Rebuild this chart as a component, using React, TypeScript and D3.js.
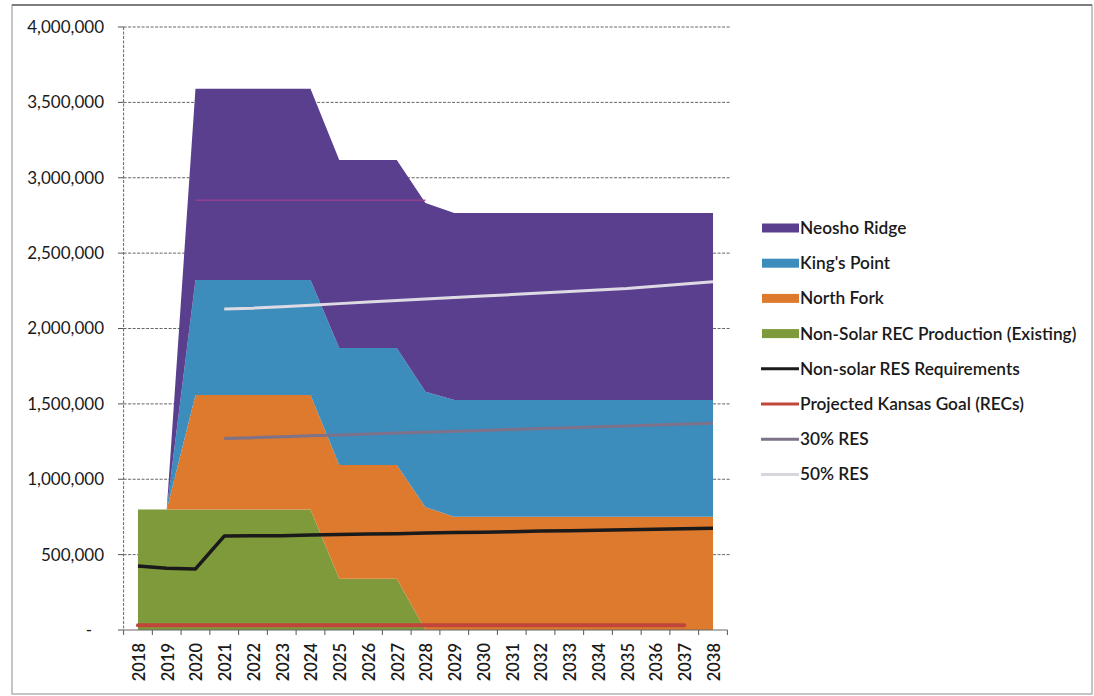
import React from "react";
import * as d3 from "d3";

const years = [
  "2018","2019","2020","2021","2022","2023","2024","2025","2026","2027","2028",
  "2029","2030","2031","2032","2033","2034","2035","2036","2037","2038",
];

// Stacked areas (bottom -> top)
const existingRec = [800000,800000,800000,800000,800000,800000,800000,340000,340000,340000,0,0,0,0,0,0,0,0,0,0,0];
const northFork = [0,0,759000,759000,759000,759000,759000,755000,755000,755000,815000,752000,752000,752000,752000,752000,752000,752000,752000,752000,752000];
const kingsPoint = [0,0,763000,763000,763000,763000,763000,776000,776000,776000,765000,774000,774000,774000,774000,774000,774000,774000,774000,774000,774000];
const neoshoRidge = [0,0,1268000,1268000,1268000,1268000,1268000,1247000,1247000,1247000,1252000,1240000,1240000,1240000,1240000,1240000,1240000,1240000,1240000,1240000,1240000];

// Lines (null = no value)
const resRequirements = [425000,410000,405000,623000,625000,626000,630000,633000,636000,639000,643000,646000,649000,652000,656000,659000,662000,665000,668000,672000,675000];
const kansasGoal = [32000,32000,32000,32000,32000,32000,32000,32000,32000,32000,32000,32000,32000,32000,32000,32000,32000,32000,32000,32000,null];
const res30 = [null,null,null,1270000,1276000,1282000,1288000,1294000,1300000,1306000,1312000,1318000,1324000,1330000,1336000,1342000,1348000,1354000,1360000,1366000,1372000];
const res50 = [null,null,null,2130000,2135000,2145000,2155000,2165000,2175000,2185000,2195000,2205000,2215000,2225000,2235000,2245000,2255000,2265000,2280000,2295000,2310000];
const hiddenTrace = [null,null,2850000,2850000,2850000,2850000,2850000,2850000,2850000,2850000,2850000,null,null,null,null,null,null,null,null,null,null];

const yTicks = [0,500000,1000000,1500000,2000000,2500000,3000000,3500000,4000000];

const areaSeries = [
  { name: "Non-Solar REC Production (Existing)", values: existingRec, color: "#7e9a3b" },
  { name: "North Fork", values: northFork, color: "#dd7a2e" },
  { name: "King's Point", values: kingsPoint, color: "#3c8dbc" },
  { name: "Neosho Ridge", values: neoshoRidge, color: "#5a3f8f" },
];

const legendItems = [
  { name: "Neosho Ridge", color: "#5a3f8f", kind: "area" },
  { name: "King's Point", color: "#3c8dbc", kind: "area" },
  { name: "North Fork", color: "#dd7a2e", kind: "area" },
  { name: "Non-Solar REC Production (Existing)", color: "#7e9a3b", kind: "area" },
  { name: "Non-solar RES Requirements", color: "#1a1a1a", kind: "line" },
  { name: "Projected Kansas Goal (RECs)", color: "#c0453a", kind: "line" },
  { name: "30% RES", color: "#7d7289", kind: "line" },
  { name: "50% RES", color: "#d9d5df", kind: "line" },
];

const FONT = "Lato, 'Open Sans', sans-serif";

export default function App() {
  const W = 1094, H = 696;
  const left = 123.6, right = 727.4, top = 27, bottom = 630;

  const x = d3.scalePoint<string>().domain(years).range([left, right]).padding(0.5);
  const step = x.step();
  const y = d3.scaleLinear().domain([0, 4000000]).range([bottom, top]);

  const table = years.map((yr, i) => {
    const row: any = { year: yr };
    areaSeries.forEach((s) => (row[s.name] = s.values[i]));
    return row;
  });
  const stack = d3.stack<any>().keys(areaSeries.map((s) => s.name));
  const stacked = stack(table);
  const area = d3
    .area<any>()
    .x((d) => x(d.data.year) as number)
    .y0((d) => y(d[0]))
    .y1((d) => y(d[1]));

  const line = d3
    .line<number | null>()
    .defined((d) => d !== null)
    .x((_, i) => x(years[i]) as number)
    .y((d) => y(d as number));

  const boundaries = d3.range(years.length + 1).map((k) => left + k * step);

  return (
    <div style={{ position: "absolute", left: 0, top: 0 }}>
      <svg width={W} height={H} style={{ display: "block", background: "#fff" }}>
        <rect x={12} y={5} width={1080} height={689} fill="#fff" stroke="#a0a0a0" strokeWidth={1.2} />
        <line x1={12} y1={5} x2={1092} y2={5} stroke="#666" strokeWidth={1.5} />

        {/* gridlines */}
        {yTicks.map((t) => (
          <g key={t}>
            {t > 0 && (
              <line x1={left} x2={730} y1={y(t)} y2={y(t)} stroke="#666" strokeWidth={1} strokeDasharray="3,1.5" />
            )}
            <line x1={118} x2={left} y1={y(t)} y2={y(t)} stroke="#555" strokeWidth={1} />
            <text
              x={t === 0 ? 92 : 104}
              y={y(t)}
              dy="0.35em"
              textAnchor="end"
              fontFamily={FONT}
              fontSize={17}
              fill="#1a1a1a"
            >
              {t === 0 ? "-" : d3.format(",")(t)}
            </text>
          </g>
        ))}

        {/* areas */}
        {stacked.map((layer, i) => (
          <path key={layer.key} d={area(layer) || ""} fill={areaSeries[i].color} />
        ))}

        {/* hidden trace */}
        <path d={line(hiddenTrace) || ""} fill="none" stroke="#9c3d8f" strokeWidth={1.5} opacity={0.85} />

        {/* lines */}
        <path d={line(kansasGoal) || ""} fill="none" stroke="#c0453a" strokeWidth={4} strokeLinecap="round" />
        <path d={line(res30) || ""} fill="none" stroke="#7d7289" strokeWidth={3} />
        <path d={line(res50) || ""} fill="none" stroke="#dedae4" strokeWidth={3} />
        <path d={line(resRequirements) || ""} fill="none" stroke="#1a1a1a" strokeWidth={3.5} strokeLinejoin="round" />

        {/* axes */}
        <line x1={left} x2={left} y1={top} y2={bottom} stroke="#666" strokeWidth={1} strokeDasharray="3,1.5" />
        <line x1={left} x2={right} y1={bottom} y2={bottom} stroke="#666" strokeWidth={1} />
        {boundaries.map((b, k) => (
          <line key={k} x1={b} x2={b} y1={bottom} y2={bottom + 5} stroke="#555" strokeWidth={1} />
        ))}
        {years.map((yr) => (
          <text
            key={yr}
            transform={`translate(${(x(yr) as number) + 1},${643}) rotate(-90)`}
            textAnchor="end"
            dy="0.35em"
            fontFamily={FONT}
            fontSize={16.5}
            fontWeight={600}
            fill="#1a1a1a"
          >
            {yr}
          </text>
        ))}

        {/* legend */}
        {legendItems.map((it, i) => {
          const cy = 228 + i * 35.2;
          return (
            <g key={it.name}>
              {it.kind === "area" ? (
                <rect x={762} y={cy - 4.5} width={37} height={9} fill={it.color} />
              ) : (
                <line x1={761} x2={799} y1={cy} y2={cy} stroke={it.color} strokeWidth={3} />
              )}
              <text x={800} y={cy} dy="0.35em" fontFamily={FONT} fontSize={17.3} fontWeight={600} fill="#1a1a1a">
                {it.name}
              </text>
            </g>
          );
        })}
      </svg>
    </div>
  );
}
